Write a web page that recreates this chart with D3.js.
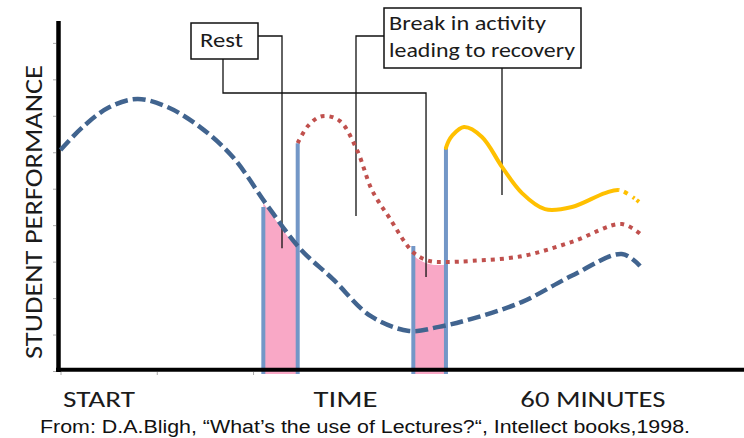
<!DOCTYPE html>
<html>
<head>
<meta charset="utf-8">
<script src="https://cdn.jsdelivr.net/npm/d3@7"></script>
<style>
  body { margin: 0; background: #fff; }
  .lbl { font-family: Carlito, Lato, "Open Sans", sans-serif; fill: #1b1b1b; }
  .cap { font-family: "Liberation Sans", Arial, sans-serif; fill: #111; }
</style>
</head>
<body>
<svg id="chart" width="744" height="438"></svg>
<script>
// minutes into the lecture -> performance (arbitrary units)
const lectureTime = [0, 2.3, 5.1, 8, 11.1, 14.5, 17.9, 21.45, 24.9, 28.3, 32.2, 36.2, 39.3, 42.7, 47.9, 53.1, 58.3, 60.2];
const lecturePerf = [6.06, 6.69, 7.24, 7.46, 7.24, 6.69, 5.87, 4.55, 3.35, 2.52, 1.51, 1.10, 1.21, 1.43, 1.89, 2.61, 3.21, 2.88];

const restTime = [24.64, 25.7, 27.16, 29.0, 30.8, 32.36, 34.12, 36.62, 38.28, 39.94, 42.74, 47.94, 53.13, 58.32, 60.5];
const restPerf = [6.25, 6.72, 6.99, 6.86, 6.06, 4.96, 4.22, 3.26, 3.02, 2.99, 3.02, 3.15, 3.54, 4.03, 3.70];

const breakTime = [40.04, 40.3, 40.67, 41.91, 43.78, 45.86, 47.94, 50.33, 53.13, 56.56, 58.11, 60.09];
const breakPerf = [6.12, 6.30, 6.45, 6.69, 6.42, 5.60, 4.88, 4.44, 4.50, 4.88, 4.96, 4.64];

const pauseStarts = [21.07, 36.65];
const pauseEnds = [24.64, 40.04];
const barTimes = [21.07, 24.64, 36.65, 40.04];
const barTops = [4.50, 6.25, 3.43, 6.12];

const xTickValues = [0, 10, 20];
const yTickValues = d3.range(0, 10);
const axisLabels = ["START", "TIME", "60 MINUTES"];
const axisLabelTimes = [4.0, 29.6, 55.3];

const svg = d3.select('#chart'),
    width = 744,
    height = 438;

let xScale = d3.scaleLinear()
                .domain([0, 71])
                .range([60.5, 744]);

let yScale = d3.scaleLinear()
                .domain([0, 9.6])
                .range([371, 21]);

const toPts = (ts, ps) => ts.map((t, i) => [t, ps[i]]);
const lecture = toPts(lectureTime, lecturePerf),
      rest = toPts(restTime, restPerf),
      brk = toPts(breakTime, breakPerf);

let line = d3.line()
    .x(d => xScale(d[0]))
    .y(d => yScale(d[1]))
    .curve(d3.curveCatmullRom.alpha(0.5));

let area = d3.area()
    .x(d => xScale(d[0]))
    .y0(yScale(0))
    .y1(d => yScale(d[1]))
    .curve(d3.curveCatmullRom.alpha(0.5));

const defs = svg.append("defs");

// pink pauses, clipped between the bars
const pauseSource = [lecture, rest];
pauseStarts.forEach(function(s, i){
    defs.append("clipPath").attr("id", "pause" + i)
        .append("rect")
        .attr("x", xScale(s))
        .attr("y", 0)
        .attr("width", xScale(pauseEnds[i]) - xScale(s))
        .attr("height", yScale(0));
    svg.append("path")
        .datum(pauseSource[i])
        .attr("clip-path", "url(#pause" + i + ")")
        .attr("transform", "translate(0,3)")
        .attr("fill", "#f9a8c6")
        .attr("d", area);
});

// axes ticks
svg.append("g")
    .attr("transform", `translate(56,0)`)
    .call(d3.axisLeft(yScale).tickValues(yTickValues).tickSize(3).tickFormat(""))
    .call(g => g.select(".domain").remove())
    .call(g => g.selectAll("line").attr("stroke", "#aaa"));

svg.append("g")
    .attr("transform", `translate(0,372)`)
    .call(d3.axisBottom(xScale).tickValues(xTickValues).tickSize(3).tickFormat(""))
    .call(g => g.select(".domain").remove())
    .call(g => g.selectAll("line").attr("stroke", "#aaa"));

// leader lines
const ink = "#111";
function leader(pts){
    svg.append("path")
        .attr("d", d3.line()(pts))
        .attr("fill", "none")
        .attr("stroke", ink)
        .attr("stroke-width", 1.3);
}
const restBox = {x: 191, y: 23, w: 67, h: 36};
const breakBox = {x: 384, y: 8, w: 197, h: 60};

leader([[restBox.x + restBox.w, 36], [282, 36], [282, yScale(3.37)]]);
leader([[223, restBox.y + restBox.h], [223, 93], [xScale(37.97), 93], [xScale(37.97), yScale(2.58)]]);
leader([[breakBox.x, 36], [356, 36], [356, yScale(4.25)]]);
leader([[502, breakBox.y + breakBox.h], [502, yScale(4.83)]]);

// blue bars
svg.selectAll(".bar")
    .data(barTimes)
    .enter()
    .append("line")
    .attr("class", "bar")
    .attr("x1", d => xScale(d))
    .attr("x2", d => xScale(d))
    .attr("y1", (d, i) => yScale(barTops[i]))
    .attr("y2", 374)
    .attr("stroke", "#7397c7")
    .attr("stroke-width", 4);

// axis lines
svg.append("line").attr("x1", 58.5).attr("x2", 58.5).attr("y1", 21).attr("y2", 372)
    .attr("stroke", "#000").attr("stroke-width", 4.5);
svg.append("line").attr("x1", 56).attr("x2", width).attr("y1", 369.7).attr("y2", 369.7)
    .attr("stroke", "#000").attr("stroke-width", 4);

// curves
const tailStart = 58.0;
defs.append("clipPath").attr("id", "body")
    .append("rect").attr("x", 0).attr("y", 0).attr("width", xScale(tailStart)).attr("height", height);
defs.append("clipPath").attr("id", "tail")
    .append("rect").attr("x", xScale(tailStart)).attr("y", 0).attr("width", width).attr("height", height);

svg.append("path")
    .datum(lecture)
    .attr("fill", "none")
    .attr("stroke", "#41648f")
    .attr("stroke-width", 4.5)
    .attr("stroke-dasharray", "13,5")
    .attr("d", line);

svg.append("path")
    .datum(rest)
    .attr("fill", "none")
    .attr("stroke", "#c0504d")
    .attr("stroke-width", 4)
    .attr("stroke-dasharray", "4,5")
    .attr("d", line);

svg.append("path")
    .datum(brk)
    .attr("clip-path", "url(#body)")
    .attr("fill", "none")
    .attr("stroke", "#ffc000")
    .attr("stroke-width", 4)
    .attr("stroke-linecap", "round")
    .attr("d", line);
svg.append("path")
    .datum(brk)
    .attr("clip-path", "url(#tail)")
    .attr("fill", "none")
    .attr("stroke", "#ffc000")
    .attr("stroke-width", 4)
    .attr("stroke-dasharray", "2,3,10,5,4,6")
    .attr("d", line);

// annotation boxes
svg.append("rect").attr("x", restBox.x).attr("y", restBox.y).attr("width", restBox.w).attr("height", restBox.h)
    .attr("fill", "#fff").attr("stroke", ink).attr("stroke-width", 1.5);
svg.append("text").attr("class", "lbl").attr("x", 200).attr("y", 47)
    .attr("font-size", 21).attr("textLength", 43).attr("lengthAdjust", "spacingAndGlyphs")
    .text("Rest");

svg.append("rect").attr("x", breakBox.x).attr("y", breakBox.y).attr("width", breakBox.w).attr("height", breakBox.h)
    .attr("fill", "#fff").attr("stroke", ink).attr("stroke-width", 1.5);
svg.append("text").attr("class", "lbl").attr("x", 389).attr("y", 30)
    .attr("font-size", 21).attr("textLength", 157).attr("lengthAdjust", "spacingAndGlyphs")
    .text("Break in activity");
svg.append("text").attr("class", "lbl").attr("x", 389).attr("y", 57)
    .attr("font-size", 21).attr("textLength", 186).attr("lengthAdjust", "spacingAndGlyphs")
    .text("leading to recovery");

// axis labels
const labelWidths = [72, 64, 145];
svg.selectAll(".xlab")
    .data(axisLabels)
    .enter()
    .append("text")
    .attr("class", "lbl xlab")
    .attr("x", (d, i) => xScale(axisLabelTimes[i]))
    .attr("y", 407)
    .attr("text-anchor", "middle")
    .attr("font-size", 23)
    .attr("textLength", (d, i) => labelWidths[i])
    .attr("lengthAdjust", "spacingAndGlyphs")
    .text(d => d);

svg.append("text")
    .attr("class", "lbl")
    .attr("transform", "translate(42,212) rotate(-90)")
    .attr("text-anchor", "middle")
    .attr("font-size", 24)
    .attr("textLength", 294)
    .attr("lengthAdjust", "spacingAndGlyphs")
    .text("STUDENT PERFORMANCE");

svg.append("text")
    .attr("class", "cap")
    .attr("x", 40)
    .attr("y", 433)
    .attr("font-size", 18)
    .attr("textLength", 650)
    .attr("lengthAdjust", "spacingAndGlyphs")
    .text("From: D.A.Bligh, \u201cWhat\u2019s the use of Lectures?\u201c, Intellect books,1998.");
</script>
</body>
</html>
